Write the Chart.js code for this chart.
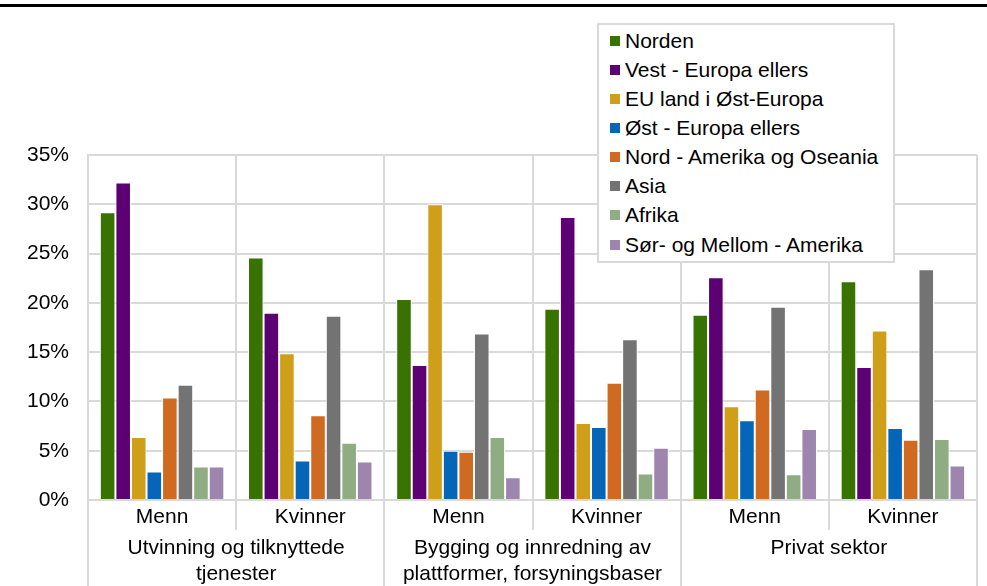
<!DOCTYPE html>
<html>
<head>
<meta charset="utf-8">
<script src="https://cdn.jsdelivr.net/npm/chart.js@4.4.1/dist/chart.umd.min.js"></script>
<style>
  body { margin: 0; background: #fff; }
  #wrap { position: relative; width: 987px; height: 586px; }
  #topline { position: absolute; left: 0; top: 4px; width: 987px; height: 3px; background: #000; }
  #legend {
    position: absolute; left: 597px; top: 23px; width: 294px; height: 235px;
    border: 2px solid #d9d9d9; background: #fff; padding-top: 1px; box-sizing: content-box;
    font-family: 'Liberation Sans', Arial, sans-serif; font-size: 21px; color: #000;
  }
  .item { height: 29.15px; display: flex; align-items: center; white-space: nowrap; }
  .box { width: 10px; height: 10px; margin-left: 11px; margin-right: 5px; flex: none; }
</style>
</head>
<body>
<div id="wrap">
  <canvas id="chart" width="987" height="586"></canvas>
  <div id="topline"></div>
  <div id="legend"></div>
</div>
<script>
const categories = ['Menn', 'Kvinner', 'Menn', 'Kvinner', 'Menn', 'Kvinner']
const sectors = [
  ['Utvinning og tilknyttede', 'tjenester'],
  ['Bygging og innredning av', 'plattformer, forsyningsbaser'],
  'Privat sektor'
]

const seriesNames = [
  'Norden',
  'Vest - Europa ellers',
  'EU land i Øst-Europa',
  'Øst - Europa ellers',
  'Nord - Amerika og Oseania',
  'Asia',
  'Afrika',
  'Sør- og Mellom - Amerika'
]
const seriesColors = ['#387200', '#5c0073', '#cf9f1a', '#0565b8', '#d06a20', '#737373', '#8fac82', '#9e85ad']

const norden = [29.2, 24.6, 20.4, 19.4, 18.8, 22.2]
const vestEuropa = [32.2, 19.0, 13.7, 28.7, 22.6, 13.5]
const euOstEuropa = [6.4, 14.9, 30.0, 7.8, 9.5, 17.2]
const ostEuropa = [2.9, 4.0, 5.0, 7.4, 8.1, 7.3]
const nordAmerika = [10.4, 8.6, 4.9, 11.9, 11.2, 6.1]
const asia = [11.7, 18.7, 16.9, 16.3, 19.6, 23.4]
const afrika = [3.4, 5.8, 6.4, 2.7, 2.6, 6.2]
const sorAmerika = [3.4, 3.9, 2.3, 5.3, 7.2, 3.5]

const yTicks = [0, 5, 10, 15, 20, 25, 30, 35]

const seriesValues = [norden, vestEuropa, euOstEuropa, ostEuropa, nordAmerika, asia, afrika, sorAmerika]

const font = { family: "'Liberation Sans', Arial, sans-serif", size: 21 }
const gridColor = '#d9d9d9'

// legend
const legendEl = document.getElementById('legend')
seriesNames.forEach((name, i) => {
  const row = document.createElement('div')
  row.className = 'item'
  const box = document.createElement('span')
  box.className = 'box'
  box.style.background = seriesColors[i]
  const txt = document.createElement('span')
  txt.textContent = name
  row.appendChild(box)
  row.appendChild(txt)
  legendEl.appendChild(row)
})

const ctx = document.getElementById('chart').getContext('2d')

new Chart(ctx, {
  type: 'bar',
  data: {
    labels: categories,
    datasets: seriesNames.map((name, i) => ({
      label: name,
      data: seriesValues[i],
      backgroundColor: seriesColors[i],
      borderColor: '#ffffff',
      borderWidth: 1,
      categoryPercentage: 0.84,
      barPercentage: 1
    }))
  },
  options: {
    responsive: false,
    animation: false,
    layout: { padding: { top: 155, right: 10, left: 0, bottom: 0 } },
    plugins: {
      legend: { display: false },
      tooltip: { enabled: false }
    },
    scales: {
      y: {
        min: 0,
        max: 35,
        afterBuildTicks: scale => {
          scale.ticks = yTicks.map(v => ({ value: v }))
        },
        afterFit: scale => { scale.width = 88 },
        ticks: {
          color: '#000',
          font,
          padding: 19,
          callback: v => v + '%'
        },
        grid: { color: gridColor, lineWidth: 2, drawTicks: false },
        border: { color: gridColor, width: 2 }
      },
      x: {
        position: 'bottom',
        offset: true,
        afterFit: scale => { scale.height = 30 },
        ticks: { color: '#000', font, padding: -25, maxRotation: 0 },
        grid: { color: gridColor, lineWidth: 2, offset: true, tickLength: 30 },
        border: { color: gridColor, width: 2 }
      },
      x2: {
        type: 'category',
        axis: 'x',
        position: 'bottom',
        labels: sectors,
        min: 0,
        max: 2,
        offset: true,
        afterFit: scale => { scale.height = 56 },
        ticks: { color: '#000', font: { ...font, lineHeight: 1.2 }, padding: -50, maxRotation: 0, autoSkip: false },
        grid: { color: gridColor, lineWidth: 2, offset: true, drawOnChartArea: false, tickLength: 56 },
        border: { display: false }
      }
    }
  }
})
</script>
</body>
</html>
